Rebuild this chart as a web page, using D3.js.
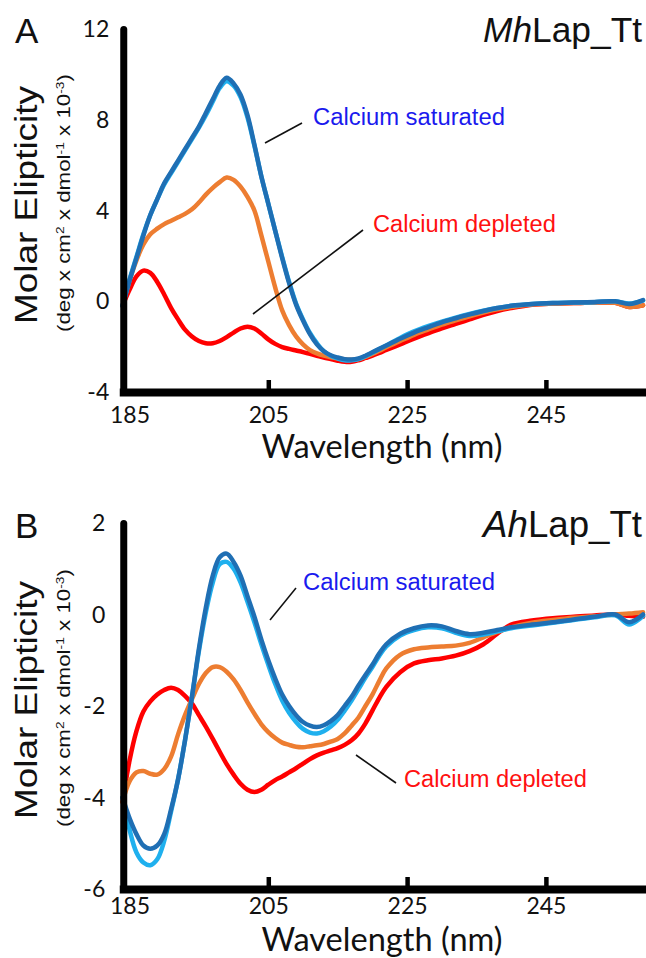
<!DOCTYPE html>
<html><head><meta charset="utf-8">
<script src="https://cdn.jsdelivr.net/npm/d3@7"></script>
<style>body{margin:0;background:#fff} svg{display:block}</style>
</head><body><svg id="c" width="646" height="958"></svg>
<script>
// ---------- DATA ----------
const wavelengths = [184,185,186,187,188,189,190,191,192,193,194,195,196,197,198,199,200,201,202,203,204,205,206,207,208,209,210,211,212,213,214,215,216,217,218,219,220,221,222,
  224,226,228,230,232,234,236,238,240,243,246,249,252,255,257,259];

// Panel A  (MhLap_Tt)
const aSaturated1 = [-0.2,0.9,1.9,2.9,3.8,4.5,5.2,5.7,6.2,6.7,7.2,7.7,8.3,8.9,9.5,9.85,9.6,9.1,8.2,6.9,5.5,4.3,3.1,1.9,0.8,-0.15,-0.85,-1.45,-1.9,-2.2,-2.38,-2.48,-2.55,-2.57,-2.52,-2.4,-2.25,-2.1,-1.95,
  -1.65,-1.38,-1.15,-0.93,-0.75,-0.58,-0.43,-0.3,-0.2,-0.12,-0.08,-0.06,-0.03,0.0,-0.12,0.05];
const aSaturated2 = [-0.2,0.95,1.95,2.95,3.8,4.5,5.15,5.65,6.15,6.65,7.15,7.65,8.2,8.8,9.4,9.7,9.5,9.0,8.1,6.85,5.5,4.3,3.1,1.95,0.85,-0.1,-0.8,-1.4,-1.85,-2.2,-2.4,-2.52,-2.6,-2.6,-2.55,-2.42,-2.27,-2.1,-1.95,
  -1.62,-1.33,-1.1,-0.9,-0.72,-0.56,-0.42,-0.3,-0.2,-0.12,-0.08,-0.06,-0.04,0.0,-0.1,0.03];
const aDepleted1 = [-0.2,0.9,1.8,2.5,2.95,3.2,3.4,3.55,3.7,3.85,4.05,4.35,4.7,5.0,5.25,5.45,5.35,5.05,4.6,4.0,2.9,1.75,0.6,-0.4,-1.05,-1.55,-1.9,-2.15,-2.3,-2.4,-2.47,-2.52,-2.56,-2.58,-2.55,-2.45,-2.32,-2.18,-2.03,
  -1.75,-1.48,-1.25,-1.03,-0.84,-0.66,-0.5,-0.36,-0.25,-0.14,-0.1,-0.08,-0.06,-0.07,-0.25,-0.18];
const aDepleted2 = [-0.2,0.5,1.1,1.35,1.25,0.85,0.3,-0.3,-0.8,-1.25,-1.55,-1.75,-1.85,-1.85,-1.75,-1.58,-1.38,-1.2,-1.12,-1.2,-1.42,-1.68,-1.88,-2.02,-2.1,-2.17,-2.24,-2.32,-2.4,-2.48,-2.55,-2.62,-2.67,-2.67,-2.6,-2.5,-2.4,-2.28,-2.15,
  -1.9,-1.65,-1.42,-1.2,-1.0,-0.8,-0.6,-0.43,-0.3,-0.15,-0.1,-0.08,-0.06,-0.07,-0.25,-0.18];

// Panel B  (AhLap_Tt)
const bSaturated1 = [-4.0,-4.45,-4.8,-5.05,-5.12,-5.05,-4.8,-4.25,-3.6,-2.75,-1.8,-0.75,0.15,0.85,1.25,1.33,1.15,0.85,0.4,-0.05,-0.55,-1.0,-1.4,-1.75,-2.0,-2.2,-2.35,-2.43,-2.46,-2.42,-2.33,-2.2,-2.0,-1.8,-1.55,-1.32,-1.1,-0.85,-0.65,
  -0.42,-0.3,-0.24,-0.26,-0.36,-0.43,-0.4,-0.34,-0.28,-0.22,-0.17,-0.11,-0.05,0.0,-0.17,0.0];
const bSaturated2 = [-4.0,-4.7,-5.2,-5.42,-5.48,-5.35,-4.95,-4.3,-3.6,-2.75,-1.8,-0.8,0.05,0.7,1.1,1.15,1.0,0.7,0.28,-0.17,-0.65,-1.1,-1.52,-1.88,-2.15,-2.35,-2.5,-2.58,-2.6,-2.55,-2.45,-2.3,-2.1,-1.88,-1.63,-1.38,-1.15,-0.9,-0.7,
  -0.46,-0.34,-0.28,-0.3,-0.4,-0.47,-0.44,-0.37,-0.3,-0.24,-0.18,-0.12,-0.06,-0.02,-0.22,-0.03];
const bDepleted1 = [-4.1,-3.65,-3.45,-3.42,-3.48,-3.5,-3.38,-3.1,-2.62,-2.2,-1.85,-1.52,-1.28,-1.15,-1.15,-1.25,-1.42,-1.65,-1.92,-2.17,-2.4,-2.57,-2.7,-2.8,-2.85,-2.89,-2.9,-2.88,-2.86,-2.83,-2.78,-2.72,-2.6,-2.43,-2.25,-2.0,-1.75,-1.45,-1.18,
  -0.88,-0.76,-0.72,-0.7,-0.68,-0.62,-0.5,-0.38,-0.28,-0.18,-0.12,-0.07,-0.04,0.0,0.02,0.05];
const bDepleted2 = [-4.1,-3.2,-2.55,-2.12,-1.9,-1.75,-1.65,-1.6,-1.65,-1.78,-1.95,-2.2,-2.45,-2.72,-3.0,-3.27,-3.5,-3.7,-3.83,-3.88,-3.83,-3.72,-3.62,-3.54,-3.45,-3.36,-3.26,-3.16,-3.08,-3.02,-2.97,-2.92,-2.85,-2.75,-2.6,-2.38,-2.1,-1.82,-1.58,
  -1.26,-1.07,-1.0,-0.96,-0.9,-0.8,-0.65,-0.42,-0.22,-0.13,-0.08,-0.05,-0.02,0.0,-0.03,-0.05];

const xTickValues = [185, 205, 225, 245];
const aYTickValues = [-4, 0, 4, 8, 12];
const bYTickValues = [-6, -4, -2, 0, 2];
const aYDomain = [-4, 12];
const bYDomain = [-6, 2];
const xDomain = [184.1, 259.1];

// ---------- DRAW ----------
const COLORS = {dark:"#1f6fb4", light:"#1fb0ee", orange:"#ed7d31", red:"#ff0000"};
const svg = d3.select("#c");
const ARIAL = "'Liberation Sans', Arial, sans-serif";
const TICKF = "Lato, 'Open Sans', sans-serif";

function fit(sel, target){
  const w = sel.node().getComputedTextLength();
  const fs = parseFloat(sel.attr("font-size"));
  sel.attr("font-size", fs*target/w);
}

const panels = [
  {letter:"A", ital:"Mh", yDomain:aYDomain, yRange:[392,29], yTicks:aYTickValues, off:0, yPad:14, xLabY:31,
   series:[aDepleted2, aDepleted1, aSaturated2, aSaturated1],
   sat:[313,125], dep:[373,232], satLine:[265,143,302,123], depLine:[253,314,363,230], xTitleY:458},
  {letter:"B", ital:"Ah", yDomain:bYDomain, yRange:[889,523], yTicks:bYTickValues, off:495, yPad:18, xLabY:25,
   series:[bDepleted2, bDepleted1, bSaturated2, bSaturated1],
   sat:[303,590], dep:[404,787], satLine:[270,620,296,588], depLine:[356,755,396,783], xTitleY:951}
];
const seriesColors = [COLORS.red, COLORS.orange, COLORS.light, COLORS.dark];

panels.forEach(p => {
  const x = d3.scaleLinear().domain(xDomain).range([123.25, 643.75]);
  const y = d3.scaleLinear().domain(p.yDomain).range(p.yRange);
  const g = svg.append("g");
  const yBottom = p.yRange[0];

  const line = d3.line().x((d,i)=>x(wavelengths[i])).y(d=>y(d)).curve(d3.curveCatmullRom.alpha(0.5));
  p.series.forEach((s,i)=>{
    g.append("path").attr("d", line(s)).attr("fill","none")
      .attr("stroke", seriesColors[i]).attr("stroke-width", 4.5)
      .attr("stroke-linejoin","round").attr("stroke-linecap","round");
  });

  // y axis
  const ya = g.append("g").attr("transform",`translate(${x(xDomain[0])},0)`)
    .call(d3.axisLeft(y).tickValues(p.yTicks).tickSize(0).tickPadding(p.yPad).tickFormat(d=>String(d)));
  ya.select(".domain").attr("stroke","#000").attr("stroke-width",7).attr("stroke-linecap","round");
  ya.selectAll("text").attr("font-family",TICKF).attr("font-size",23).attr("fill","#111").attr("dy","0.33em");

  // x axis
  const xa = g.append("g").attr("transform",`translate(0,${yBottom})`)
    .call(d3.axisBottom(x).tickValues(xTickValues).tickSize(0).tickFormat(d=>String(d)));
  xa.select(".domain").attr("stroke","#000").attr("stroke-width",8).attr("stroke-linecap","square");
  xa.selectAll("text").attr("font-family",TICKF).attr("font-size",23).attr("fill","#111").attr("dy",null).attr("y",p.xLabY);
  // inner tick marks
  const xt = g.append("g").attr("transform",`translate(0,${yBottom})`)
    .call(d3.axisBottom(x).tickValues(xTickValues.slice(1)).tickSize(-12).tickFormat(""));
  xt.select(".domain").remove();
  xt.selectAll("line").attr("stroke","#000").attr("stroke-width",4.5);

  // letter
  g.append("text").attr("x",15).attr("y",43+p.off).attr("font-family",ARIAL).attr("font-size",35).attr("fill","#111").text(p.letter);
  // title
  const t = g.append("text").attr("x",642).attr("y",42+p.off).attr("text-anchor","end")
    .attr("font-family",ARIAL).attr("font-size",36).attr("fill","#111");
  t.append("tspan").attr("font-style","italic").text(p.ital);
  t.append("tspan").text("Lap_Tt");
  fit(t,159);

  // y title
  const yt = g.append("text").attr("transform",`translate(37,${205+p.off}) rotate(-90) scale(1,0.85)`)
    .attr("text-anchor","middle").attr("font-family",ARIAL).attr("font-size",36).attr("fill","#111")
    .text("Molar Elipticity");
  fit(yt,238);
  const ys = g.append("text").attr("transform",`translate(70,${203+p.off}) rotate(-90) scale(1,0.85)`)
    .attr("text-anchor","middle").attr("font-family",ARIAL).attr("font-size",22).attr("fill","#111");
  ys.append("tspan").text("(deg x cm");
  ys.append("tspan").attr("baseline-shift","super").attr("font-size","62%").text("2");
  ys.append("tspan").text(" x dmol");
  ys.append("tspan").attr("baseline-shift","super").attr("font-size","62%").text("-1");
  ys.append("tspan").text(" x 10");
  ys.append("tspan").attr("baseline-shift","super").attr("font-size","62%").text("-3");
  ys.append("tspan").text(")");
  fit(ys,258);

  // x title
  const xtt = g.append("text").attr("x",382).attr("y",p.xTitleY).attr("text-anchor","middle")
    .attr("font-family",TICKF).attr("font-size",34).attr("fill","#111").text("Wavelength (nm)");
  fit(xtt,241);

  // annotations
  g.append("line").attr("x1",p.satLine[0]).attr("y1",p.satLine[1]).attr("x2",p.satLine[2]).attr("y2",p.satLine[3])
    .attr("stroke","#111").attr("stroke-width",1.6);
  g.append("line").attr("x1",p.depLine[0]).attr("y1",p.depLine[1]).attr("x2",p.depLine[2]).attr("y2",p.depLine[3])
    .attr("stroke","#111").attr("stroke-width",1.6);
  const st = g.append("text").attr("x",p.sat[0]).attr("y",p.sat[1]).attr("font-family",ARIAL).attr("font-size",24)
    .attr("fill","#1a1aee").text("Calcium saturated");
  fit(st,192);
  const dt = g.append("text").attr("x",p.dep[0]).attr("y",p.dep[1]).attr("font-family",ARIAL).attr("font-size",24)
    .attr("fill","#ff1010").text("Calcium depleted");
  fit(dt,183);
});
</script>
</body></html>
